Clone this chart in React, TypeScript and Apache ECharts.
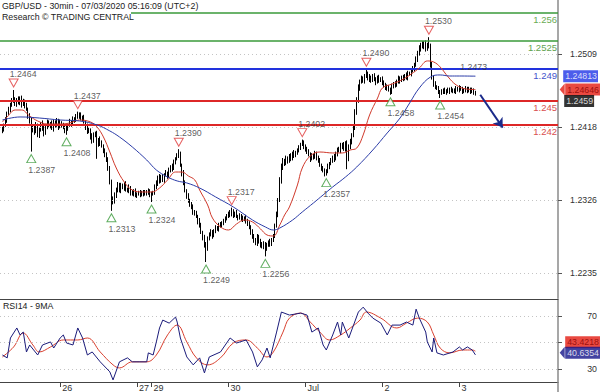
import React, { useEffect, useRef } from "react";
import * as echarts from "echarts";

// ---------- data ----------
const BASE = 1.22; // prices below are in pips above 1.2200
const FIRST_OPEN = 212;
const closePips = [
  215, 220, 226, 235, 240, 246, 250, 252, 247, 252,
  248, 254, 246, 250, 244, 240, 232, 225, 214, 218,
  212, 220, 208, 214, 222, 216, 210, 218, 224, 219,
  222, 216, 224, 220, 226, 218, 223, 220, 217, 214,
  216, 220, 224, 222, 228, 226, 231, 234, 232, 228,
  230, 224, 218, 212, 214, 206, 200, 208, 210, 196,
  202, 198, 194, 188, 184, 176, 166, 150, 128, 124,
  132, 140, 146, 138, 144, 142, 147, 140, 138, 142,
  136, 134, 138, 132, 134, 136, 133, 136, 134, 137,
  135, 138, 133, 134, 136, 142, 148, 155, 150, 156,
  152, 158, 160, 156, 164, 168, 166, 174, 178, 182,
  184, 170, 160, 148, 138, 132, 126, 120, 118, 112,
  110, 106, 100, 95, 86, 80, 70, 66, 78, 84,
  86, 82, 88, 92, 90, 94, 96, 98, 100, 104,
  106, 110, 108, 112, 108, 110, 106, 104, 107, 104,
  102, 104, 100, 98, 92, 86, 82, 76, 72, 80,
  76, 70, 68, 72, 66, 70, 74, 72, 76, 82,
  94, 108, 126, 150, 168, 176, 172, 178, 175, 182,
  178, 185, 182, 186, 188, 192, 196, 198, 194, 190,
  186, 184, 178, 182, 180, 184, 180, 176, 170, 166,
  164, 160, 162, 168, 172, 176, 180, 178, 184, 190,
  188, 194, 196, 190, 198, 178, 192, 200, 208, 216,
  236, 252, 266, 274, 278, 276, 282, 284, 278, 280,
  276, 281, 278, 274, 279, 276, 278, 274, 270, 266,
  268, 264, 262, 268, 272, 270, 275, 278, 276, 280,
  278, 282, 280, 285, 284, 288, 290, 295, 302, 310,
  316, 320, 318, 322, 316, 320, 318, 296, 280, 272,
  268, 266, 262, 260, 262, 264, 261, 263, 262, 265,
  263, 264, 262, 266, 264, 267, 265, 262, 264, 266,
  263, 265, 262, 264, 261, 259,
];
const wickUp = [
  3, 2, 4, 2, 3, 2, 4, 12, 3, 2, 4, 2, 3, 3, 2, 4, 2, 3, 5, 2,
  3, 4, 2, 3, 2, 4, 3, 2, 3, 2, 2, 4, 3, 2, 3, 2, 4, 2, 3, 2,
  3, 2, 4, 2, 3, 2, 3, 3, 2, 4, 2, 3, 2, 4, 3, 2, 4, 3, 2, 3,
  2, 4, 3, 2, 3, 2, 4, 3, 2, 3, 4, 2, 3, 2, 4, 3, 2, 3, 2, 4,
  2, 3, 2, 3, 2, 2, 3, 2, 3, 2, 2, 3, 2, 3, 2, 4, 3, 2, 4, 2,
  3, 2, 4, 2, 3, 2, 4, 3, 2, 3, 6, 3, 2, 4, 3, 2, 3, 2, 4, 3,
  2, 3, 2, 4, 3, 2, 3, 4, 3, 2, 4, 3, 2, 3, 2, 4, 3, 2, 3, 2,
  3, 2, 4, 5, 3, 2, 4, 2, 3, 2, 3, 2, 4, 3, 2, 3, 4, 2, 3, 4,
  3, 2, 4, 3, 2, 3, 2, 4, 3, 2, 3, 4, 3, 5, 4, 3, 2, 4, 3, 2,
  3, 2, 4, 2, 3, 3, 2, 4, 3, 2, 3, 4, 2, 3, 2, 4, 3, 2, 3, 2,
  3, 2, 3, 4, 2, 3, 2, 4, 3, 2, 3, 4, 2, 3, 2, 3, 4, 3, 2, 4,
  4, 3, 5, 3, 4, 3, 2, 6, 3, 4, 2, 3, 4, 2, 3, 4, 2, 3, 2, 3,
  3, 2, 3, 4, 2, 3, 2, 4, 3, 2, 3, 2, 4, 3, 2, 3, 4, 3, 4, 3,
  4, 3, 5, 3, 4, 3, 10, 4, 3, 2, 3, 2, 3, 2, 3, 2, 3, 2, 4, 2,
  3, 2, 2, 3, 2, 3, 2, 3, 2, 3, 2, 3, 2, 3, 2, 2,
];
const wickDn = [
  2, 3, 2, 3, 2, 4, 3, 2, 3, 4, 2, 3, 4, 2, 3, 2, 4, 3, 27, 3,
  4, 2, 3, 4, 2, 3, 4, 2, 3, 2, 3, 2, 4, 3, 2, 4, 2, 3, 2, 4,
  6, 3, 2, 4, 2, 3, 2, 3, 4, 2, 3, 2, 4, 3, 2, 4, 3, 2, 3, 18,
  3, 4, 2, 3, 4, 2, 3, 4, 15, 3, 2, 3, 4, 2, 3, 2, 4, 3, 2, 3,
  4, 2, 3, 2, 3, 2, 3, 2, 3, 2, 3, 2, 3, 9, 2, 3, 2, 4, 3, 2,
  3, 4, 2, 3, 2, 3, 4, 2, 3, 2, 3, 2, 4, 3, 2, 4, 3, 2, 3, 4,
  3, 2, 4, 3, 2, 4, 3, 17, 3, 2, 3, 4, 2, 3, 2, 3, 2, 4, 3, 2,
  3, 2, 3, 2, 4, 3, 2, 3, 2, 4, 3, 2, 3, 4, 2, 3, 4, 3, 2, 3,
  4, 3, 2, 3, 10, 3, 2, 4, 3, 2, 3, 2, 3, 2, 3, 4, 3, 2, 3, 2,
  3, 2, 3, 2, 3, 2, 3, 2, 4, 3, 2, 3, 4, 2, 3, 2, 4, 3, 2, 3,
  3, 4, 3, 2, 3, 2, 3, 4, 2, 3, 2, 3, 4, 2, 3, 13, 3, 2, 4, 3,
  2, 3, 4, 3, 2, 3, 4, 3, 2, 4, 3, 2, 3, 4, 2, 3, 2, 4, 3, 2,
  3, 2, 4, 3, 2, 3, 2, 3, 4, 2, 3, 2, 3, 4, 2, 3, 2, 3, 2, 3,
  3, 4, 2, 3, 4, 3, 2, 4, 3, 4, 3, 2, 3, 6, 2, 3, 2, 3, 2, 3,
  2, 3, 2, 3, 2, 3, 2, 3, 2, 3, 3, 2, 3, 2, 3, 2,
];

// x axis: 30-min slots; candle i sits in slot i + 1
const SLOT_COUNT = 348;
const TAG_SLOT = 347; // value tags are anchored on the last slot, at the right axis
const dayLabels = ["26", "27", "29", "30", "Jul", "2", "3"];
const dayStartSlots = [37, 85, 94, 142, 190, 238, 286];

// moving averages on price
const maRedSlots = [1, 4, 9, 13, 18, 23, 29, 37, 43, 49, 56, 60, 64, 68, 72, 77, 82, 89, 94, 99, 104, 109, 113, 117, 121, 124, 129, 132, 137, 142, 147, 152, 157, 162, 166, 170, 174, 177, 180, 185, 188, 193, 199, 207, 213, 218, 222, 226, 230, 235, 238, 244, 250, 256, 261, 266, 270, 274, 279, 284, 290, 296];
const maRedVals = [1.2424, 1.24303, 1.2439, 1.2439, 1.24315, 1.24253, 1.24215, 1.24215, 1.24228, 1.24265, 1.2424, 1.24178, 1.24053, 1.23865, 1.23665, 1.2349, 1.2339, 1.23365, 1.23365, 1.23415, 1.23515, 1.23615, 1.23615, 1.23565, 1.23515, 1.2339, 1.23203, 1.2304, 1.22928, 1.2289, 1.22965, 1.23015, 1.2299, 1.22903, 1.22828, 1.22815, 1.22953, 1.23078, 1.23178, 1.23453, 1.23665, 1.23815, 1.23865, 1.23853, 1.23853, 1.2389, 1.23915, 1.24078, 1.24328, 1.2454, 1.24665, 1.24715, 1.24765, 1.2484, 1.24915, 1.25003, 1.2499, 1.24928, 1.24803, 1.24703, 1.24653, 1.24646];
const maBlueSlots = [1, 12, 24, 37, 49, 60, 68, 74, 82, 91, 97, 104, 110, 116, 124, 134, 145, 157, 165, 170, 174, 182, 188, 195, 201, 207, 215, 222, 232, 241, 249, 255, 261, 268, 274, 280, 286, 296];
const maBlueVals = [1.24265, 1.24303, 1.2429, 1.24265, 1.24253, 1.24203, 1.24128, 1.24053, 1.23928, 1.23765, 1.2364, 1.23553, 1.23503, 1.23478, 1.23415, 1.23303, 1.23178, 1.23015, 1.22928, 1.2289, 1.22915, 1.23015, 1.23115, 1.23228, 1.23328, 1.23428, 1.23553, 1.23678, 1.2389, 1.24103, 1.2429, 1.24478, 1.24665, 1.24803, 1.24828, 1.24815, 1.24815, 1.24813];

// RSI14 and its 9MA
const rsiSlots = [1, 4, 6, 10, 12, 14, 16, 18, 23, 26, 31, 33, 37, 39, 41, 45, 48, 51, 54, 57, 62, 68, 70, 74, 79, 82, 91, 92, 95, 97, 99, 101, 105, 109, 110, 112, 116, 120, 124, 127, 130, 137, 143, 147, 153, 157, 160, 163, 166, 168, 172, 175, 180, 187, 191, 194, 198, 201, 203, 207, 210, 212, 213, 217, 220, 223, 226, 229, 232, 237, 241, 244, 249, 253, 257, 259, 261, 265, 266, 269, 270, 272, 276, 282, 286, 288, 291, 294, 296];
const rsiVals = [40.5, 38.3, 53.4, 61.0, 55.7, 57.9, 42.8, 48.1, 40.5, 48.1, 50.4, 45.8, 53.4, 55.7, 49.6, 48.1, 61.0, 53.4, 40.5, 42.8, 35.3, 27.7, 21.6, 35.3, 38.3, 35.3, 35.3, 42.1, 40.5, 50.4, 61.0, 67.0, 64.7, 69.3, 65.5, 53.4, 39.0, 33.0, 38.3, 26.9, 39.0, 42.8, 53.4, 49.6, 51.9, 42.8, 31.5, 36.8, 45.8, 38.3, 57.9, 73.1, 70.8, 72.3, 70.8, 57.9, 61.0, 48.1, 44.3, 55.7, 65.5, 55.7, 65.5, 53.4, 63.2, 73.1, 76.8, 72.3, 68.5, 64.7, 55.7, 63.2, 63.2, 65.5, 63.2, 75.3, 68.5, 57.9, 50.4, 42.8, 53.4, 42.1, 40.5, 42.8, 46.6, 44.3, 46.6, 44.3, 40.6];
const rsiMaSlots = [1, 8, 14, 20, 24, 31, 39, 48, 54, 62, 70, 74, 82, 91, 97, 104, 110, 116, 122, 129, 137, 145, 153, 160, 166, 170, 176, 180, 187, 193, 199, 205, 212, 218, 224, 228, 237, 247, 253, 260, 266, 270, 274, 280, 288, 294, 296];
const rsiMaVals = [39.0, 46.6, 57.2, 48.1, 42.8, 46.6, 51.9, 51.9, 53.4, 42.8, 33.0, 30.7, 35.3, 35.3, 40.5, 55.7, 63.2, 50.4, 38.3, 33.0, 38.3, 49.6, 51.9, 45.8, 39.0, 42.8, 57.9, 68.5, 72.3, 65.5, 57.9, 51.9, 55.7, 61.0, 67.0, 73.1, 68.5, 61.0, 64.7, 68.5, 65.5, 55.7, 45.8, 42.1, 44.3, 44.3, 43.4];

// pivots
const peakSlots = [8, 48, 111, 144, 188, 228, 267];
const peakVals = [1.2464, 1.2437, 1.239, 1.2317, 1.2402, 1.249, 1.253];
const extraPeakSlots = [289];
const extraPeakVals = [1.2473];
const troughSlots = [19, 41, 69, 94, 128, 165, 203, 243, 274];
const troughVals = [1.2387, 1.2408, 1.2313, 1.2324, 1.2249, 1.2256, 1.2357, 1.2458, 1.2454];

// levels
const levelVals = [1.256, 1.2525, 1.249, 1.245, 1.242];
const levelLabels = ["1.256", "1.2525", "1.249", "1.245", "1.242"];
const priceTicks = [1.2235, 1.2326, 1.2418, 1.2509];
const rsiTicks = [30, 50, 70];
const rsiLabelTicks = [30, 70];
const lastClose = 1.2459;
const maRedLast = 1.24646;
const maBlueLast = 1.24813;
const rsiLast = 40.6354;
const rsiMaLast = 43.4218;
const arrowFrom = [299, 1.2458];
const arrowTo = [313, 1.2417];

const FONT = '"Liberation Sans", Arial, sans-serif';
const SMALL = 8.8;

export default function App() {
  const ref = useRef<HTMLDivElement>(null);
  useEffect(() => {
    if (!ref.current) return;
    const chart = echarts.init(ref.current, undefined, { renderer: "svg" });

    const categories = Array.from({ length: SLOT_COUNT }, (_, s) => String(s));
    const candles: any[] = [["-", "-", "-", "-"]];
    let prev = FIRST_OPEN;
    closePips.forEach((c, i) => {
      const o = prev;
      const h = Math.max(o, c) + wickUp[i];
      const l = Math.min(o, c) - wickDn[i];
      candles.push([BASE + o / 1e4, BASE + c / 1e4, BASE + l / 1e4, BASE + h / 1e4]);
      prev = c;
    });
    const pairs = (s: number[], v: number[]) => s.map((x, i) => [x, v[i]]);
    const isDay = (idx: number) => dayStartSlots.indexOf(idx) >= 0;

    const levelColors = ["#3a9a3a", "#3a9a3a", "#2233dd", "#dd2727", "#dd2727"];
    const levelLabelColors = ["#6aab55", "#5fa24e", "#4454cc", "#d95050", "#d95050"];
    const levelWidths = [1.5, 1.5, 2, 2, 2];

    // value tag on the right axis: label of an invisible point on the last slot
    const tagSeries = (
      xi: number, yi: number, value: number, text: string, bg: string, fg: string, dx: number, dy: number
    ) => ({
      type: "scatter",
      xAxisIndex: xi,
      yAxisIndex: yi,
      clip: false,
      silent: true,
      z: 20,
      data: [[TAG_SLOT, value]],
      symbol: "circle",
      symbolSize: 0.1,
      itemStyle: { color: "rgba(0,0,0,0)" },
      label: {
        show: true,
        position: "inside",
        align: "left",
        verticalAlign: "middle",
        offset: [dx, dy],
        formatter: text,
        backgroundColor: bg,
        color: fg,
        fontSize: 8.8,
        fontFamily: FONT,
        lineHeight: 11,
        padding: [1, 1, 0, 2],
      },
    });
    const arrowSeries = (xi: number, yi: number, value: number, color: string, dy: number) => ({
      type: "scatter",
      xAxisIndex: xi,
      yAxisIndex: yi,
      clip: false,
      silent: true,
      z: 21,
      data: [[TAG_SLOT, value]],
      symbol: "triangle",
      symbolRotate: 90,
      symbolSize: [12, 5],
      symbolOffset: [5, dy],
      itemStyle: { color },
    });

    const gridLine = (value: number) => ({
      yAxis: value,
      lineStyle: { color: "#c4c4c4", width: 1, type: [1, 3] },
      label: { show: false },
    });

    const option: any = {
      animation: false,
      textStyle: { fontFamily: FONT },
      grid: [
        { left: 0, top: 0, width: 558, height: 298 },
        { left: 0, top: 299, width: 558, height: 83 },
      ],
      xAxis: [
        { type: "category", gridIndex: 0, data: categories, show: false },
        {
          type: "category",
          gridIndex: 1,
          data: categories,
          axisLine: { lineStyle: { color: "#444", width: 1 } },
          axisTick: { show: true, alignWithLabel: true, interval: (i: number) => isDay(i), length: 5, lineStyle: { color: "#444" } },
          axisLabel: {
            interval: (i: number) => isDay(i),
            formatter: (_v: string, i: number) => {
              const k = dayStartSlots.indexOf(i);
              return k >= 0 ? dayLabels[k] : "";
            },
            align: "left",
            padding: [0, 0, 0, 2],
            margin: 1,
            fontSize: 9,
            color: "#333",
          },
        },
        {
          type: "category",
          gridIndex: 1,
          data: categories,
          position: "top",
          axisLine: { lineStyle: { color: "#444", width: 1 } },
          axisTick: { show: false },
          axisLabel: { show: false },
        },
      ],
      yAxis: [
        {
          type: "value",
          gridIndex: 0,
          position: "right",
          min: 1.2204,
          max: 1.25765,
          splitLine: { show: false },
          axisLine: { show: true, lineStyle: { color: "#8a8a8a", width: 1.5 } },
          axisTick: { show: true, length: 4, customValues: priceTicks, lineStyle: { color: "#555" } },
          axisLabel: {
            customValues: priceTicks,
            formatter: (v: number) => v.toFixed(4),
            align: "right",
            margin: 39,
            fontSize: SMALL,
            color: "#333",
          },
        },
        {
          type: "value",
          gridIndex: 1,
          position: "right",
          min: 20,
          max: 83,
          splitLine: { show: false },
          axisLine: { show: true, lineStyle: { color: "#8a8a8a", width: 1.5 } },
          axisTick: { show: true, length: 4, customValues: rsiTicks, lineStyle: { color: "#555" } },
          axisLabel: {
            customValues: rsiLabelTicks,
            formatter: (v: number) => String(v),
            align: "right",
            margin: 39,
            fontSize: SMALL,
            color: "#333",
          },
        },
      ],
      series: [
        {
          name: "levels",
          type: "line",
          xAxisIndex: 0,
          yAxisIndex: 0,
          data: [],
          z: 4,
          markLine: {
            silent: true,
            symbol: "none",
            precision: 6,
            data: [
              ...priceTicks.map(gridLine),
              ...levelVals.map((v, k) => ({
                yAxis: v,
                lineStyle: { color: levelColors[k], width: levelWidths[k], type: "solid" },
                label: {
                  show: true,
                  position: "insideEndBottom",
                  distance: 1,
                  formatter: levelLabels[k],
                  color: levelLabelColors[k],
                  fontSize: 9.5,
                  fontFamily: FONT,
                },
              })),
            ],
          },
        },
        {
          name: "price",
          type: "candlestick",
          xAxisIndex: 0,
          yAxisIndex: 0,
          data: candles,
          barWidth: 1.3,
          z: 3,
          itemStyle: { color: "#000", color0: "#000", borderColor: "#000", borderColor0: "#000", borderWidth: 1 },
        },
        {
          name: "ma-red",
          type: "line",
          xAxisIndex: 0,
          yAxisIndex: 0,
          data: pairs(maRedSlots, maRedVals),
          smooth: 0.4,
          showSymbol: false,
          symbol: "none",
          z: 5,
          lineStyle: { color: "#d0392b", width: 1 },
        },
        {
          name: "ma-blue",
          type: "line",
          xAxisIndex: 0,
          yAxisIndex: 0,
          data: pairs(maBlueSlots, maBlueVals),
          smooth: 0.4,
          showSymbol: false,
          symbol: "none",
          z: 5,
          lineStyle: { color: "#2b3ca8", width: 1 },
          markLine: {
            silent: true,
            symbol: ["none", "arrow"],
            symbolSize: 9,
            precision: 6,
            data: [[{ coord: arrowFrom }, { coord: arrowTo }]],
            lineStyle: { color: "#1a2a8a", width: 2, type: "solid" },
            label: { show: false },
          },
        },
        {
          name: "peaks",
          type: "scatter",
          xAxisIndex: 0,
          yAxisIndex: 0,
          data: pairs(peakSlots, peakVals),
          symbol: "triangle",
          symbolRotate: 180,
          symbolSize: [9, 8],
          symbolOffset: [0, -7],
          z: 6,
          itemStyle: { color: "#ffffff", borderColor: "#e03a3a", borderWidth: 1 },
        },
        {
          name: "troughs",
          type: "scatter",
          xAxisIndex: 0,
          yAxisIndex: 0,
          data: pairs(troughSlots, troughVals),
          symbol: "triangle",
          symbolSize: [9, 8],
          symbolOffset: [0, 7],
          z: 6,
          itemStyle: { color: "#ffffff", borderColor: "#3a9a3a", borderWidth: 1 },
        },
        {
          name: "peak-labels",
          type: "scatter",
          xAxisIndex: 0,
          yAxisIndex: 0,
          data: pairs(peakSlots.concat(extraPeakSlots), peakVals.concat(extraPeakVals)),
          symbol: "circle",
          symbolSize: 0.1,
          z: 6,
          itemStyle: { color: "rgba(0,0,0,0)" },
          label: {
            show: true,
            position: "inside",
            align: "left",
            verticalAlign: "middle",
            offset: [-4, -16],
            formatter: (p: any) => p.value[1].toFixed(4),
            color: "#333",
            fontSize: SMALL,
          },
        },
        {
          name: "trough-labels",
          type: "scatter",
          xAxisIndex: 0,
          yAxisIndex: 0,
          data: pairs(troughSlots, troughVals),
          symbol: "circle",
          symbolSize: 0.1,
          z: 6,
          itemStyle: { color: "rgba(0,0,0,0)" },
          label: {
            show: true,
            position: "inside",
            align: "left",
            verticalAlign: "middle",
            offset: [-3, 18],
            formatter: (p: any) => p.value[1].toFixed(4),
            color: "#333",
            fontSize: SMALL,
          },
        },
        {
          name: "rsi-grid",
          type: "line",
          xAxisIndex: 1,
          yAxisIndex: 1,
          data: [],
          z: 1,
          markLine: { silent: true, symbol: "none", precision: 6, data: rsiTicks.map(gridLine) },
        },
        {
          name: "rsi-ma",
          type: "line",
          xAxisIndex: 1,
          yAxisIndex: 1,
          data: pairs(rsiMaSlots, rsiMaVals),
          smooth: 0.4,
          showSymbol: false,
          symbol: "none",
          z: 4,
          lineStyle: { color: "#d8402f", width: 1 },
        },
        {
          name: "rsi",
          type: "line",
          xAxisIndex: 1,
          yAxisIndex: 1,
          data: pairs(rsiSlots, rsiVals),
          showSymbol: false,
          symbol: "none",
          z: 5,
          lineStyle: { color: "#1b1b7a", width: 1 },
        },
        tagSeries(0, 0, maBlueLast, "1.24813", "#1f35e6", "#ffffff", 6, 0),
        arrowSeries(0, 0, maRedLast, "#e41b12", 0),
        tagSeries(0, 0, maRedLast, "1.24646", "#e41b12", "#8a0000", 8, 0),
        tagSeries(0, 0, lastClose, "1.2459", "#000000", "#ffffff", 7, 7),
        arrowSeries(1, 1, rsiLast, "#14148a", -2),
        tagSeries(1, 1, rsiMaLast, "43.4218", "#e41b12", "#8a0000", 8, -9),
        tagSeries(1, 1, rsiLast, "40.6354", "#14148a", "#ffffff", 8, -2),
      ],
      graphic: [
        { type: "rect", shape: { x: 0, y: 0, width: 131, height: 22 }, style: { fill: "#ffffff" }, z: 100 },
        {
          type: "text",
          x: 2,
          y: 1,
          z: 101,
          style: { text: "GBP/USD - 30min - 07/03/2020 05:16:09 (UTC+2)", font: '8.8px "Liberation Sans", Arial, sans-serif', fill: "#222" },
        },
        {
          type: "text",
          x: 2,
          y: 12,
          z: 101,
          style: { text: "Research © TRADING CENTRAL", font: '8.8px "Liberation Sans", Arial, sans-serif', fill: "#222" },
        },
        {
          type: "text",
          x: 3,
          y: 301,
          z: 101,
          style: { text: "RSI14 - 9MA", font: '8.8px "Liberation Sans", Arial, sans-serif', fill: "#222" },
        },
        { type: "line", shape: { x1: 558, y1: 382, x2: 558, y2: 392 }, style: { stroke: "#8a8a8a", lineWidth: 1.5 }, z: 50 },
      ],
    };
    chart.setOption(option);
    return () => chart.dispose();
  }, []);
  return (
    <div
      ref={ref}
      style={{ position: "fixed", left: 0, top: 0, width: 600, height: 392, background: "#fff" }}
    />
  );
}
